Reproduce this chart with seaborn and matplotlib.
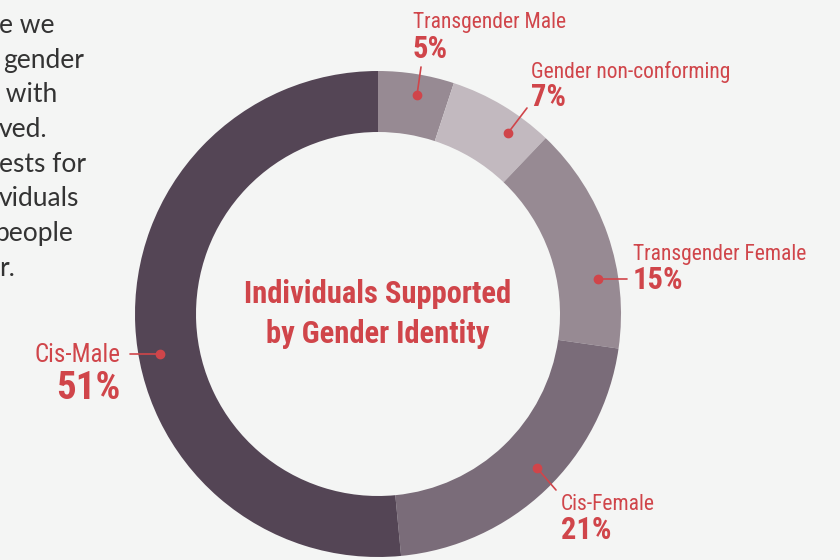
import seaborn as sns
import matplotlib.pyplot as plt

categories = ['Transgender Male', 'Gender non-conforming', 'Transgender Female',
              'Cis-Female', 'Cis-Male']
shares = [5, 7, 15, 21, 51]
pct_labels = ['5%', '7%', '15%', '21%', '51%']
colors = ['#978a93', '#c2b9bf', '#978a93', '#7a6c79', '#544555']

# left-hand paragraph, cut off by the frame edge
para_lines = ['e we', 'gender', ' with', 'ved.', 'ests for', 'viduals', 'people', 'r.']
para_x = [-1, 3, -1, -1, -1, -1, -6, -1]

RED = '#d0454a'
BG = '#f4f5f4'

sns.set_theme(style='white')
plt.rcParams['font.family'] = ['Roboto Condensed', 'DejaVu Sans']
plt.rcParams['font.stretch'] = 'condensed'

fig = plt.figure(figsize=(8.4, 5.6), dpi=100, facecolor=BG)
ax = fig.add_axes([0, 0, 1, 1])
ax.set_facecolor(BG)

# y axis is inverted below, so counterclock=True runs clockwise on screen
ax.pie(shares, colors=colors, startangle=-90, counterclock=True,
       center=(378, 314), radius=243, frame=True,
       wedgeprops=dict(width=61, linewidth=0))
ax.set_xlim(0, 840)
ax.set_ylim(560, 0)
ax.axis('off')

# label layout: (dot, line end, text x, name baseline, pct baseline, align, name size, pct size)
layout = {
    'Transgender Male': ((417, 95), (421, 67), 413, 28, 58, 'left', 15.5, 22),
    'Gender non-conforming': ((508, 133), (527, 108), 531, 78, 106, 'left', 15.5, 22),
    'Transgender Female': ((598, 279), (627, 279), 633, 260, 289, 'left', 15.5, 22),
    'Cis-Female': ((537, 468), (556, 490), 561, 510, 539, 'left', 15.5, 22),
    'Cis-Male': ((160, 354), (130, 354), 121, 362, 399, 'right', 18, 28),
}

for cat, pct in zip(categories, pct_labels):
    dot, end, tx, ny, py, ha, nsz, psz = layout[cat]
    ax.plot([dot[0], end[0]], [dot[1], end[1]], color=RED, lw=1.2)
    ax.plot(dot[0], dot[1], 'o', color=RED, ms=6)
    ax.text(tx, ny, cat, color=RED, fontsize=nsz, ha=ha, va='baseline')
    ax.text(tx, py, pct, color=RED, fontsize=psz, fontweight='bold',
            ha=ha, va='baseline')

ax.text(378, 303, 'Individuals Supported', color=RED, fontsize=22,
        fontweight='bold', ha='center', va='baseline')
ax.text(378, 343, 'by Gender Identity', color=RED, fontsize=22,
        fontweight='bold', ha='center', va='baseline')

for i, (line, x) in enumerate(zip(para_lines, para_x)):
    ax.text(x, 33 + i * 34.7, line, color='#333333', fontsize=19,
            family=['Lato', 'DejaVu Sans'], stretch='normal',
            ha='left', va='baseline')

plt.savefig('out.png', dpi=100, facecolor=BG)
plt.close()
